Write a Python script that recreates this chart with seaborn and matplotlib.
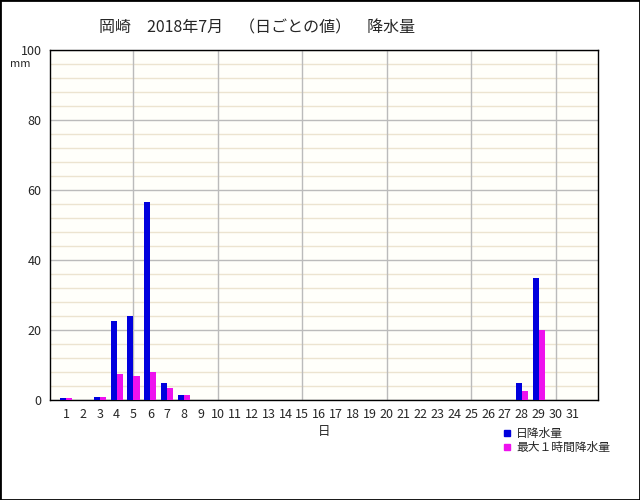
import pandas as pd
import seaborn as sns
import matplotlib.pyplot as plt
from matplotlib.lines import Line2D
from matplotlib.patches import Rectangle

# data (mm)
days = [str(d) for d in range(1, 32)]
daily_rain = [0.5, 0, 1.0, 22.5, 24.0, 56.5, 5.0, 1.5, 0, 0,
              0, 0, 0, 0, 0, 0, 0, 0, 0, 0,
              0, 0, 0, 0, 0, 0, 0, 5.0, 35.0, 0, 0]
max_hourly = [0.5, 0, 1.0, 7.5, 7.0, 8.0, 3.5, 1.5, 0, 0,
              0, 0, 0, 0, 0, 0, 0, 0, 0, 0,
              0, 0, 0, 0, 0, 0, 0, 2.5, 20.0, 0, 0]
series_names = ['日降水量', '最大１時間降水量']
colors = ['#0000dd', '#ee11ee']

df = pd.DataFrame({'day': days, series_names[0]: daily_rain, series_names[1]: max_hourly})
df_long = df.melt(id_vars='day', var_name='series', value_name='mm')

sns.set_style('white')
plt.rcParams['font.family'] = ['Noto Sans CJK JP', 'DejaVu Sans']

fig = plt.figure(figsize=(6.4, 5), dpi=100)
ax = fig.add_axes([0.078, 0.2, 0.856, 0.7])
ax.set_facecolor('#fffffa')

sns.barplot(data=df_long, x='day', y='mm', hue='series', order=days,
            hue_order=series_names, palette=colors, width=0.72,
            saturation=1, legend=False, ax=ax, zorder=3,
            linewidth=0, edgecolor='none')

ax.set_ylim(0, 100)
ax.set_xlim(-0.95, 31.5)
ax.set_yticks(range(0, 101, 20))
ax.set_yticks(range(0, 101, 4), minor=True)
ax.grid(which='minor', axis='y', color='#ece4d0', lw=1, zorder=0)
ax.grid(which='major', axis='y', color='#bbbbbb', lw=1, zorder=1)
for d in range(4, 31, 5):
    ax.axvline(d, color='#bbbbbb', lw=1, zorder=1)
ax.tick_params(length=0, labelsize=9, pad=6)
ax.tick_params(which='minor', length=0)
for s in ax.spines.values():
    s.set_color('black')
    s.set_linewidth(1)

ax.set_xlabel('日', fontsize=9, labelpad=3)
ax.set_ylabel('')
fig.text(0.016, 0.866, 'mm', fontsize=8)
fig.text(0.155, 0.936, '岡崎　2018年7月　（日ごとの値）　降水量', fontsize=11.5)

handles = [Line2D([], [], marker='s', ls='', color=c, markersize=5) for c in colors]
fig.legend(handles, series_names, loc='upper left', bbox_to_anchor=(0.775, 0.155),
           frameon=False, fontsize=8.5, handletextpad=0.3, labelspacing=0.05,
           handlelength=1, borderaxespad=0)

fig.patches.append(Rectangle((0, 0), 1, 1, transform=fig.transFigure,
                             fill=False, edgecolor='black', lw=2))

fig.savefig('out.png', dpi=100)
